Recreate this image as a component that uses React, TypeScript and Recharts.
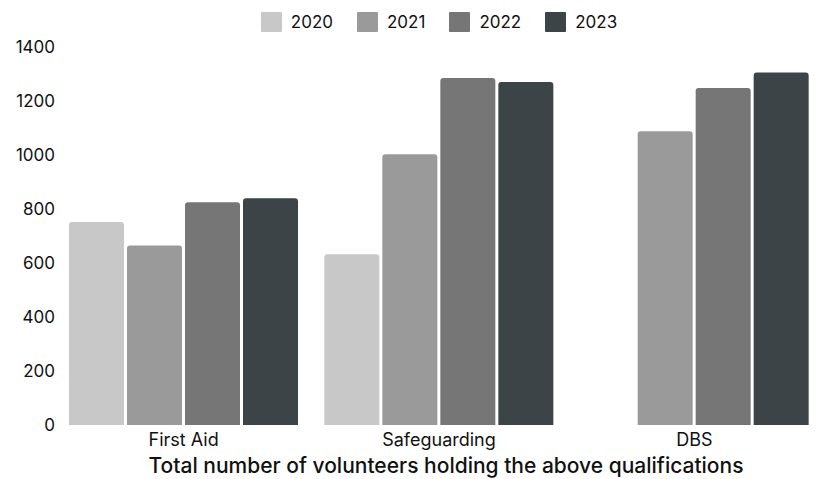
import { Bar, BarChart, Label, XAxis, YAxis } from "recharts";

const categories = ["First Aid", "Safeguarding", "DBS"];
const years = ["2020", "2021", "2022", "2023"];
const values2020: (number | null)[] = [752, 632, null];
const values2021 = [665, 1003, 1088];
const values2022 = [825, 1285, 1248];
const values2023 = [840, 1270, 1306];
const yTicks = [0, 200, 400, 600, 800, 1000, 1200, 1400];

const colors = ["#c8c8c8", "#9a9a9a", "#767676", "#3c4447"];
const font = "Inter, 'Open Sans', sans-serif";

const data = categories.map((name, i) => ({
  name,
  "2020": values2020[i],
  "2021": values2021[i],
  "2022": values2022[i],
  "2023": values2023[i],
}));

// legend drawn as plain html so it doesn't eat into the plot area
function TopLegend() {
  return (
    <div
      style={{
        position: "absolute",
        top: 12,
        left: 56,
        width: 766,
        display: "flex",
        justifyContent: "center",
        gap: 24,
        fontFamily: font,
        fontSize: 17,
        color: "#111",
      }}
    >
      {years.map((y, i) => (
        <div key={y} style={{ display: "flex", alignItems: "center", gap: 9, height: 20 }}>
          <span style={{ display: "inline-block", width: 21, height: 20, background: colors[i], borderRadius: 1 }} />
          <span>{y}</span>
        </div>
      ))}
    </div>
  );
}

export default function App() {
  return (
    <div style={{ position: "absolute", left: 0, top: 0, width: 819, height: 479, background: "#fff", overflow: "hidden" }}>
      <TopLegend />
      <BarChart
        width={819}
        height={479}
        data={data}
        margin={{ top: 47, right: -3, left: 0, bottom: 0 }}
        barCategoryGap={13}
        barGap={3}
        style={{ overflow: "visible" }}
      >
        <XAxis
          dataKey="name"
          axisLine={false}
          tickLine={false}
          height={54}
          tick={{ fill: "#111", fontSize: 18, fontFamily: font }}
        >
          <Label
            value="Total number of volunteers holding the above qualifications"
            position="insideBottom"
            offset={6}
            dx={7}
            style={{ fill: "#111", fontSize: 21, fontWeight: 500, fontFamily: font }}
          />
        </XAxis>
        <YAxis
          domain={[0, 1400]}
          ticks={yTicks}
          axisLine={false}
          tickLine={false}
          tickSize={0}
          width={56}
          tickMargin={1}
          tick={{ fill: "#111", fontSize: 17, fontFamily: font }}
        />
        {years.map((y, i) => (
          <Bar key={y} dataKey={y} fill={colors[i]} radius={[3, 3, 0, 0]} isAnimationActive={false} />
        ))}
      </BarChart>
    </div>
  );
}
